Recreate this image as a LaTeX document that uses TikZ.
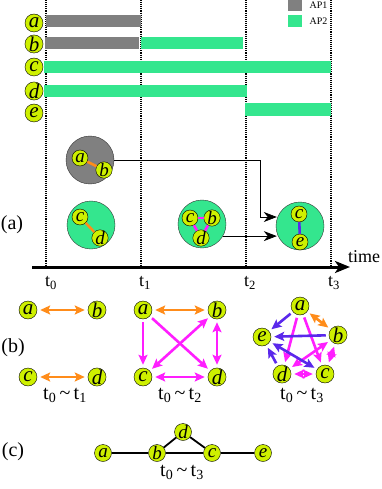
\documentclass[tikz,border=0pt]{standalone}
\usepackage{fontspec}
\setmainfont{Liberation Serif}
\usetikzlibrary{arrows.meta,positioning}
\definecolor{nodelime}{RGB}{206,240,0}
\definecolor{apgreen}{RGB}{52,230,142}
\definecolor{apgray}{RGB}{128,128,128}
\definecolor{edgeorange}{RGB}{255,140,26}
\definecolor{edgemagenta}{RGB}{255,30,255}
\definecolor{edgeblue}{RGB}{90,40,235}

\begin{document}
\begin{tikzpicture}[x=1pt,y=-1pt]
\tikzset{
  vnode/.style={circle,draw,thin,fill=nodelime,minimum size=18pt,inner sep=0pt,font=\fontsize{21}{21}\selectfont\itshape},
  snode/.style={vnode,minimum size=16pt,font=\fontsize{19}{19}\selectfont\itshape},
  cnode/.style={vnode,minimum size=17pt,font=\fontsize{19}{19}\selectfont\itshape},
  apcell/.style={circle,draw=black!80,thin,minimum size=48pt,inner sep=0pt},
  timeline/.style={densely dotted,line width=1.1pt},
  bararrow/.style={-{Stealth[length=13pt,width=10pt,inset=4pt]},thick},
  inedge/.style={line width=2.6pt},
  gedge/.style={line width=2.6pt,shorten <=3pt,shorten >=3pt},
  oneway/.style={gedge,-{Stealth[length=10pt,width=9pt,inset=2pt]}},
  twoway/.style={gedge,{Stealth[length=10pt,width=9pt,inset=2pt]}-{Stealth[length=10pt,width=9pt,inset=2pt]}},
  plainedge/.style={line width=1.8pt},
  tlabel/.style={font=\fontsize{18}{18}\selectfont},
  rangelabel/.style={font=\fontsize{20}{20}\selectfont,anchor=north},
  partlabel/.style={font=\fontsize{20}{20}\selectfont}
}
\useasboundingbox (0,0) rectangle (382,489);

% time lines and activity bars
\foreach \x in {46,141,246,331}
  \draw[timeline] (\x,0) -- (\x,267);
\fill[apgray] (46,15) rectangle (141,27);
\fill[apgray] (45,37) rectangle (139,49);
\fill[apgreen] (141,37) rectangle (243,49);
\fill[apgreen] (44,61) rectangle (331,73);
\fill[apgreen] (44,85) rectangle (247,97);
\fill[apgreen] (245,103) rectangle (331,116);
\node[vnode] (tl_a) at (34,23) {a};
\node[vnode] (tl_b) at (34,44) {b};
\node[vnode] (tl_c) at (34,67) {c};
\node[vnode] (tl_d) at (34,91) {d};
\node[vnode] (tl_e) at (34,113) {e};

% legend
\fill[apgray] (288,0) rectangle (302,11);
\fill[apgreen] (288,15) rectangle (302,27);
\node[anchor=west,font=\fontsize{10}{10}\selectfont] (key_1) at (306,5) {AP1};
\node[anchor=west,font=\fontsize{10}{10}\selectfont] (key_2) at (306,21) {AP2};

% (a) clusters
\node[apcell,fill=apgray] (cell_ab) at (90,160) {};
\node[snode] (ca_a) at (80,158) {a};
\node[snode] (ca_b) at (104,170) {b};
\draw[inedge,edgeorange] (ca_a) -- (ca_b);
\node[apcell,fill=apgreen] (cell_cd) at (91,225) {};
\node[snode] (cb_c) at (80,217) {c};
\node[snode] (cb_d) at (100,238) {d};
\draw[inedge,edgeorange] (cb_c) -- (cb_d);
\node[apcell,fill=apgreen] (cell_cbd) at (202,224) {};
\node[snode] (cc_c) at (190,218) {c};
\node[snode] (cc_b) at (212,218) {b};
\node[snode] (cc_d) at (201,238) {d};
\draw[inedge,edgemagenta] (cc_c) -- (cc_b);
\draw[inedge,edgemagenta] (cc_c) -- (cc_d);
\draw[inedge,edgemagenta] (cc_b) -- (cc_d);
\node[apcell,fill=apgreen] (cell_ce) at (300,226) {};
\node[snode] (cd_c) at (299,214) {c};
\node[snode] (cd_e) at (300,242) {e};
\draw[inedge,edgeblue] (cd_c) -- (cd_e);
\coordinate (turn) at (260,217);
\draw[bararrow] (cell_ab.east) -| (turn) -- ([xshift=1pt]cell_ce.west |- turn);
\draw[bararrow] (cell_cbd.-30) -- ([xshift=1pt]cell_ce.west |- cell_cbd.-30);
\node[partlabel] (lab_a) at (12,225) {(a)};

% time axis
\coordinate (ax_start) at (32,267);
\coordinate (ax_end) at (350,267);
\draw[line width=3pt,-{Stealth[length=15pt,width=12pt,inset=4pt]}] (ax_start) -- (ax_end);
\node[font=\fontsize{18}{18}\selectfont] (ax_time) at (364,257) {time};
\node[tlabel] (t_0) at (51,283) {t\textsubscript{0}};
\node[tlabel] (t_1) at (145,283) {t\textsubscript{1}};
\node[tlabel] (t_2) at (250,283) {t\textsubscript{2}};
\node[tlabel] (t_3) at (334,283) {t\textsubscript{3}};

% (b) contact graphs
\node[partlabel] (lab_b) at (13,348) {(b)};
\node[vnode] (g1_a) at (28,310) {a};
\node[vnode] (g1_b) at (97,310) {b};
\node[vnode] (g1_c) at (28,377) {c};
\node[vnode] (g1_d) at (97,377) {d};
\draw[twoway,edgeorange] (g1_a) -- (g1_b);
\draw[twoway,edgeorange] (g1_c) -- (g1_d);
\node[rangelabel] (r_1) at (65,385) {t\textsubscript{0}\,\textasciitilde\,t\textsubscript{1}};

\node[vnode] (g2_a) at (143,310) {a};
\node[vnode] (g2_b) at (217,310) {b};
\node[vnode] (g2_c) at (143,377) {c};
\node[vnode] (g2_d) at (217,377) {d};
\draw[twoway,edgeorange] (g2_a) -- (g2_b);
\draw[oneway,edgemagenta] (g2_a) -- (g2_c);
\draw[oneway,edgemagenta] (g2_a) -- (g2_d);
\draw[twoway,edgemagenta] (g2_c) -- (g2_b);
\draw[twoway,edgemagenta] (g2_b) -- (g2_d);
\draw[twoway,edgemagenta] (g2_c) -- (g2_d);
\node[rangelabel] (r_2) at (180,385) {t\textsubscript{0}\,\textasciitilde\,t\textsubscript{2}};

\node[vnode] (g3_a) at (300,306) {a};
\node[vnode] (g3_b) at (338,335) {b};
\node[vnode] (g3_e) at (262,337) {e};
\node[vnode] (g3_d) at (282,374) {d};
\node[vnode] (g3_c) at (325,374) {c};
\draw[twoway,edgeorange] (g3_a) -- (g3_b);
\draw[oneway,edgemagenta] (g3_a) -- (g3_d);
\draw[oneway,edgemagenta] (g3_a) -- (g3_c);
\draw[twoway,edgemagenta] (g3_b) -- (g3_d);
\draw[twoway,edgemagenta] (g3_b) -- (g3_c);
\draw[twoway,edgemagenta] (g3_d) -- (g3_c);
\draw[oneway,edgeblue] (g3_a) -- (g3_e);
\draw[oneway,edgeblue] (g3_b) -- (g3_e);
\draw[oneway,edgeblue] (g3_d) -- (g3_e);
\draw[twoway,edgeblue] (g3_c) -- (g3_e);
\node[rangelabel] (r_3) at (302,385) {t\textsubscript{0}\,\textasciitilde\,t\textsubscript{3}};

% (c) aggregated graph
\node[partlabel] (lab_c) at (13,452) {(c)};
\node[cnode] (h_a) at (103,453) {a};
\node[cnode] (h_b) at (157,453) {b};
\node[cnode] (h_d) at (183,432) {d};
\node[cnode] (h_c) at (212,453) {c};
\node[cnode] (h_e) at (263,453) {e};
\draw[plainedge] (h_a) -- (h_b);
\draw[plainedge] (h_b) -- (h_c);
\draw[plainedge] (h_b) -- (h_d);
\draw[plainedge] (h_d) -- (h_c);
\draw[plainedge] (h_c) -- (h_e);
\node[rangelabel] (r_4) at (182,462) {t\textsubscript{0}\,\textasciitilde\,t\textsubscript{3}};
\end{tikzpicture}
\end{document}
